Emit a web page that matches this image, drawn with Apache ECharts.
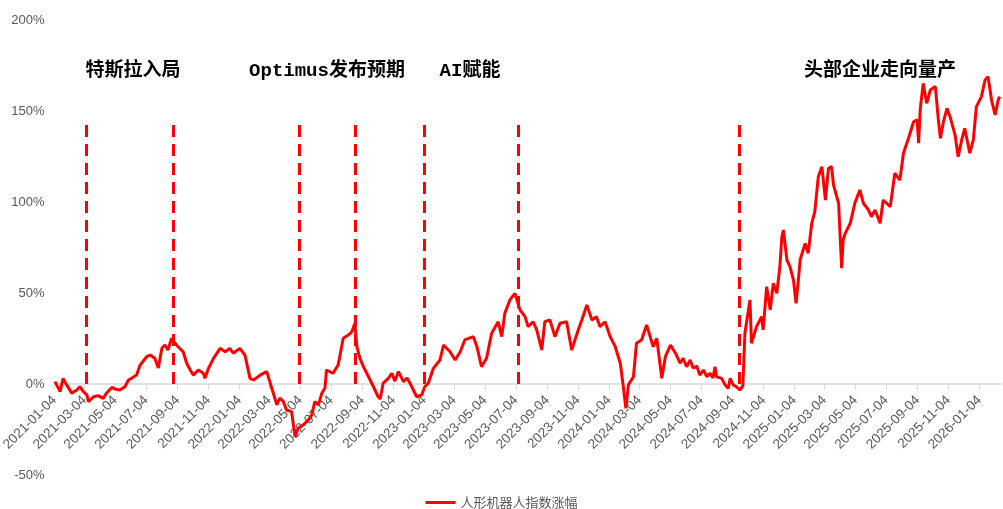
<!DOCTYPE html>
<html>
<head>
<meta charset="utf-8">
<script src="https://cdn.jsdelivr.net/npm/echarts@6/dist/echarts.min.js"></script>
<style>html,body{margin:0;padding:0;background:#fff;}#c{width:1003px;height:509px;}</style>
</head>
<body>
<div id="c"></div>
<script>
const dates = [
'2021-01-05','2021-01-15','2021-01-21','2021-01-28','2021-02-07','2021-02-17','2021-02-23','2021-03-02','2021-03-09','2021-03-12',
'2021-03-22','2021-03-31','2021-04-10','2021-04-17','2021-04-27','2021-05-03','2021-05-13','2021-05-23','2021-05-30','2021-06-05',
'2021-06-15','2021-06-22','2021-07-05','2021-07-12','2021-07-21','2021-07-28','2021-08-04','2021-08-10','2021-08-16','2021-08-23',
'2021-08-30','2021-09-05','2021-09-15','2021-09-22','2021-09-29','2021-10-05','2021-10-15','2021-10-25','2021-10-28','2021-11-04',
'2021-11-14','2021-11-27','2021-12-07','2021-12-16','2021-12-23','2022-01-05','2022-01-15','2022-01-25','2022-02-01','2022-02-14',
'2022-02-27','2022-03-05','2022-03-12','2022-03-19','2022-03-25','2022-04-01','2022-04-07','2022-04-17','2022-04-20','2022-04-24',
'2022-04-30','2022-05-10','2022-05-20','2022-05-27','2022-06-02','2022-06-09','2022-06-16','2022-06-22','2022-06-25','2022-07-08',
'2022-07-18','2022-07-28','2022-08-07','2022-08-14','2022-08-20','2022-08-24','2022-08-30','2022-09-06','2022-09-16','2022-09-25',
'2022-10-05','2022-10-09','2022-10-15','2022-10-25','2022-11-01','2022-11-07','2022-11-14','2022-11-24','2022-12-01','2022-12-07',
'2022-12-20','2022-12-30','2023-01-05','2023-01-12','2023-01-22','2023-02-04','2023-02-11','2023-02-24','2023-03-06','2023-03-16',
'2023-03-25','2023-04-11','2023-04-18','2023-04-27','2023-05-07','2023-05-17','2023-05-30','2023-06-06','2023-06-12','2023-06-22',
'2023-07-02','2023-07-12','2023-07-22','2023-07-28','2023-08-07','2023-08-14','2023-08-24','2023-08-30','2023-09-09','2023-09-19',
'2023-09-29','2023-10-12','2023-10-22','2023-11-04','2023-11-11','2023-11-21','2023-12-01','2023-12-10','2023-12-17','2023-12-27',
'2024-01-06','2024-01-16','2024-01-26','2024-02-01','2024-02-06','2024-02-11','2024-02-21','2024-02-27','2024-03-08','2024-03-18',
'2024-03-25','2024-03-31','2024-04-07','2024-04-17','2024-04-24',
'2024-05-04','2024-05-14','2024-05-23','2024-05-29','2024-06-05','2024-06-12','2024-06-18','2024-06-25','2024-07-01','2024-07-08',
'2024-07-15','2024-07-21','2024-07-27','2024-07-31','2024-08-03','2024-08-13','2024-08-20','2024-08-26','2024-08-30','2024-09-05',
'2024-09-11','2024-09-18','2024-09-24',
'2024-09-28','2024-10-08',
'2024-10-11','2024-10-21','2024-10-31','2024-11-03','2024-11-10','2024-11-17','2024-11-23','2024-11-30','2024-12-06','2024-12-10',
'2024-12-13','2024-12-20','2024-12-26','2025-01-02','2025-01-07','2025-01-11','2025-01-15','2025-01-25','2025-01-31','2025-02-07',
'2025-02-13','2025-02-20','2025-02-27','2025-03-06','2025-03-12','2025-03-18','2025-03-22','2025-04-01','2025-04-07','2025-04-10',
'2025-04-14','2025-04-24','2025-05-03','2025-05-13','2025-05-20','2025-05-30','2025-06-05','2025-06-12','2025-06-22','2025-06-28',
'2025-07-12','2025-07-21','2025-07-31','2025-08-07','2025-08-17','2025-08-27','2025-09-03','2025-09-06','2025-09-09','2025-09-15',
'2025-09-22','2025-09-29','2025-10-09','2025-10-15','2025-10-19','2025-10-25','2025-11-01','2025-11-07','2025-11-17','2025-11-23',
'2025-11-30','2025-12-06','2025-12-16','2025-12-23','2025-12-29','2026-01-08','2026-01-15','2026-01-21','2026-01-28','2026-02-04',
'2026-02-10','2026-02-13'
];
const values = [
1.3,-4.2,3.1,-0.5,-5.0,-3.3,-1.5,-4.2,-6.0,-9.7,
-7.0,-6.4,-7.9,-4.9,-1.9,-2.7,-3.3,-1.5,2.2,3.1,
4.9,10.4,15.0,15.9,14.1,8.8,19.6,21.4,18.7,25.1,
22.4,20.5,17.7,11.4,7.7,4.9,7.7,5.9,3.1,8.6,
14.1,19.6,17.7,19.6,16.9,19.6,15.9,3.1,2.2,4.9,
6.8,1.3,-5.1,-11.5,-7.7,-9.7,-14.3,-15.2,-16.1,-29.0,
-24.3,-22.5,-19.8,-17.0,-9.7,-11.5,-4.9,-2.2,7.7,5.9,
10.4,25.1,26.9,28.7,33.4,20.5,14.1,9.5,4.0,-1.1,
-7.0,-8.2,0.5,3.1,5.9,1.6,6.8,1.3,3.3,0.4,
-7.0,-6.0,-1.5,0.4,8.6,13.2,21.4,17.7,13.2,17.7,
24.2,26.0,20.5,9.5,14.1,27.9,34.2,26.0,38.8,46.2,
49.8,40.7,37.0,31.5,34.2,29.7,18.7,34.2,35.2,26.0,
33.4,34.2,18.7,29.7,35.2,43.4,35.2,37.0,31.5,34.2,
26.0,20.5,11.4,-1.5,-13.4,-0.5,4.0,22.4,24.2,32.4,
26.0,20.5,25.1,3.1,15.0,
21.4,16.9,11.4,14.1,9.5,13.2,8.6,9.9,4.9,7.7,
4.0,5.9,3.3,9.5,4.0,3.1,-0.5,-2.4,3.1,-0.5,
-1.5,-3.3,-1.1,
27.9,46.2,
22.4,31.5,37.0,29.7,53.5,40.7,55.3,49.8,64.5,80.9,
84.6,68.1,64.5,57.1,44.3,55.3,68.1,77.3,71.8,88.3,
94.7,113.9,119.4,101.1,118.5,119.4,109.3,99.3,63.6,79.1,
82.8,88.3,99.3,106.6,99.3,95.6,91.9,95.6,88.3,101.1,
97.4,115.8,112.1,126.8,135.0,144.1,145.1,132.3,150.5,165.2,
154.2,161.5,163.4,145.1,135.0,144.1,151.5,146.9,136.8,124.9,
134.1,140.5,126.8,134.1,152.4,157.9,167.0,168.8,156.0,147.8,
156.0,157.9
];
const tickDates = [
'2021-01-04','2021-03-04','2021-05-04','2021-07-04','2021-09-04','2021-11-04',
'2022-01-04','2022-03-04','2022-05-04','2022-07-04','2022-09-04','2022-11-04',
'2023-01-04','2023-03-04','2023-05-04','2023-07-04','2023-09-04','2023-11-04',
'2024-01-04','2024-03-04','2024-05-04','2024-07-04','2024-09-04','2024-11-04',
'2025-01-04','2025-03-04','2025-05-04','2025-07-04','2025-09-04','2025-11-04',
'2026-01-04'
];
const eventDates = ['2021-03-07','2021-08-26','2022-05-02','2022-08-20','2023-01-03','2023-07-08','2024-09-16'];
const eventTop = 145;
const phaseLabels = ['特斯拉入局','Optimus发布预期','AI赋能','头部企业走向量产'];
const seriesName = '人形机器人指数涨幅';
const xMin = '2021-01-04', xMax = '2026-02-16';
const yTicks = {min: -50, max: 200, interval: 50};

const chart = echarts.init(document.getElementById('c'));
const labelFont = "'Liberation Sans', Arial, sans-serif";
const annFont = "'Liberation Mono', 'Noto Sans CJK SC', monospace";
const phaseCenters = [133, 327, 470, 880];
const gridTop = 20, gridBottom = 34, H = 509;
const plotH = H - gridTop - gridBottom;
// distance from plot bottom up to the zero value
const zeroOffset = plotH * (0 - yTicks.min) / (yTicks.max - yTicks.min);

chart.setOption({
  animation: false,
  backgroundColor: '#fff',
  grid: {left: 54.5, right: 1.8, top: gridTop, bottom: gridBottom, outerBoundsMode: 'none', containLabel: false},
  xAxis: {
    type: 'time', min: xMin, max: xMax,
    offset: -zeroOffset,
    axisLine: {show: true, onZero: false, lineStyle: {color: '#D9D9D9', width: 1.5}},
    axisTick: {show: true, customValues: tickDates, length: 5, lineStyle: {color: '#D9D9D9', width: 1}},
    axisLabel: {customValues: tickDates, formatter: '{yyyy}-{MM}-{dd}', rotate: 45, margin: 14,
      fontSize: 13.5, color: '#595959', fontFamily: labelFont},
    splitLine: {show: false}
  },
  yAxis: {
    type: 'value', min: yTicks.min, max: yTicks.max, interval: yTicks.interval,
    axisLine: {show: false}, axisTick: {show: false}, splitLine: {show: false},
    axisLabel: {formatter: '{value}%', fontSize: 13, color: '#595959', fontFamily: labelFont, margin: 10}
  },
  legend: {
    bottom: 0, left: 'center', padding: 0,
    itemWidth: 30, itemHeight: 3, icon: 'rect',
    textStyle: {fontSize: 13, color: '#595959', fontFamily: "'Noto Sans CJK SC', sans-serif"},
    data: [seriesName]
  },
  series: [{
    name: seriesName, type: 'line', showSymbol: false, symbol: 'none',
    data: dates.map((d, i) => [d, values[i]]),
    lineStyle: {color: '#FF0000', width: 3},
    itemStyle: {color: '#FF0000'},
    markLine: {
      silent: true, symbol: 'none', label: {show: false},
      lineStyle: {color: '#FF0000', width: 3, type: [12, 7]},
      data: eventDates.map(d => [{coord: [d, 0]}, {coord: [d, eventTop]}])
    }
  }],
  graphic: phaseLabels.map((t, i) => ({
    type: 'text', x: phaseCenters[i], y: 71,
    style: {text: t, fill: '#000', font: 'bold 19px ' + annFont, textAlign: 'center', textVerticalAlign: 'middle'}
  }))
});
</script>
</body>
</html>
